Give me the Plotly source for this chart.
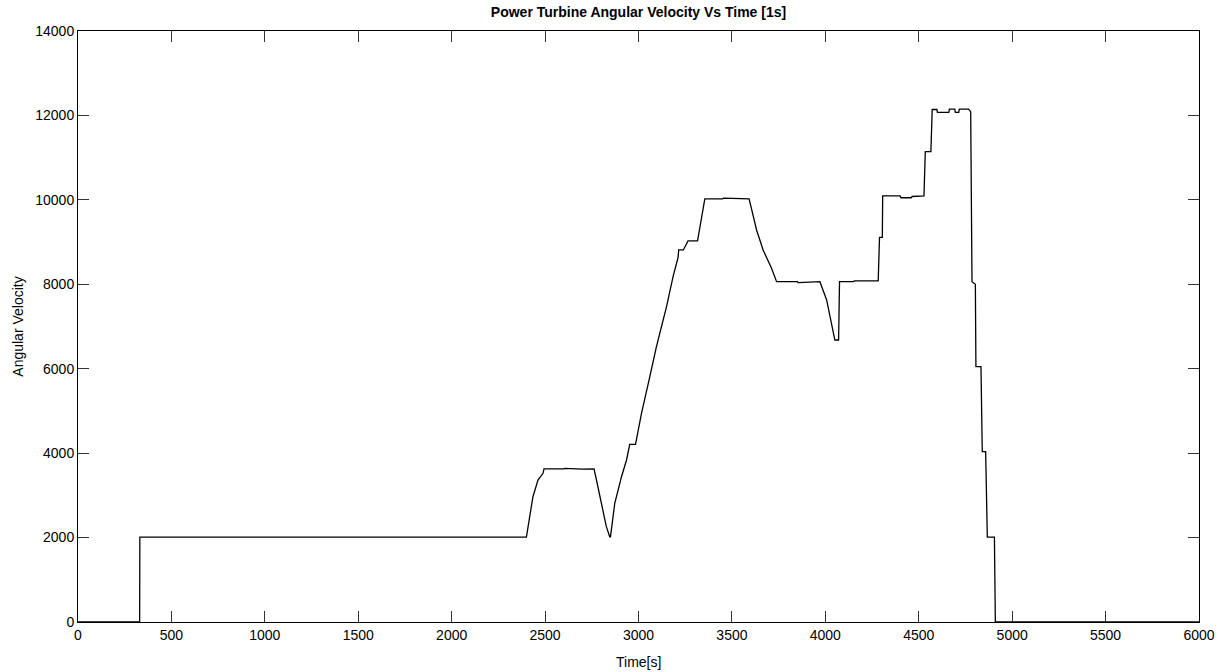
import plotly.graph_objects as go

# Breakpoints (time [s], angular velocity)
time_s = [0, 330, 331, 2400, 2435, 2462, 2489, 2494, 2600, 2605, 2700, 2762,
          2775, 2810, 2828, 2846, 2850, 2873, 2909, 2936, 2953, 2984,
          3016, 3060, 3096, 3150, 3185, 3212, 3215, 3240, 3265, 3316,
          3355, 3450, 3455, 3592, 3632, 3667, 3712, 3739,
          3850, 3855, 3960, 3971, 4007, 4034, 4051, 4071, 4076, 4150, 4155, 4283,
          4290, 4305, 4307, 4400, 4405, 4460, 4465, 4528,
          4535, 4565, 4572, 4597, 4600, 4661, 4664, 4693, 4696, 4714, 4717, 4767, 4774,
          4778, 4785, 4803, 4806, 4833, 4840, 4858, 4867, 4905, 4910, 6000]
velocity = [0, 0, 2010, 2010, 2968, 3364, 3522, 3625, 3625, 3640, 3620, 3625,
            3364, 2653, 2258, 2020, 2020, 2812, 3442, 3838, 4210, 4210,
            4944, 5800, 6522, 7470, 8180, 8640, 8813, 8813, 9026, 9026,
            10021, 10021, 10040, 10021, 9286, 8813, 8380, 8062,
            8062, 8040, 8062, 8062, 7628, 6996, 6680, 6680, 8062, 8062, 8080, 8080,
            9113, 9113, 10092, 10092, 10050, 10050, 10080, 10092,
            11141, 11141, 12140, 12140, 12070, 12070, 12150, 12150, 12070, 12070, 12150, 12150, 12090,
            12090, 8062, 8000, 6048, 6048, 4034, 4034, 2010, 2010, 0, 0]

x_ticks = [0, 500, 1000, 1500, 2000, 2500, 3000, 3500, 4000, 4500, 5000, 5500, 6000]
y_ticks = [0, 2000, 4000, 6000, 8000, 10000, 12000, 14000]

font_family = "Liberation Sans, Arial, Helvetica, sans-serif"

fig = go.Figure()
fig.add_trace(go.Scatter(
    x=time_s, y=velocity, mode="lines",
    line=dict(color="black", width=1.3),
    showlegend=False, hoverinfo="x+y",
))

axis_common = dict(
    showline=True, linecolor="black", linewidth=1, mirror="ticks",
    ticks="inside", ticklen=11, tickwidth=1, tickcolor="#333333",
    showgrid=False, zeroline=False, automargin=False,
    tickfont=dict(family=font_family, size=14, color="black"),
)

fig.update_layout(
    width=1226, height=672,
    margin=dict(l=78, r=27, t=31, b=50),
    paper_bgcolor="white", plot_bgcolor="white",
    title=dict(text="<b>Power Turbine Angular Velocity Vs Time [1s]</b>",
               x=(78 + 1199) / 2 / 1226, xanchor="center", y=1 - 12 / 672, yanchor="middle",
               font=dict(family=font_family, size=14, color="black")),
    xaxis=dict(range=[0, 6000], tickvals=x_ticks, ticktext=[str(v) for v in x_ticks],
               **axis_common),
    yaxis=dict(range=[0, 14000], tickvals=y_ticks, ticktext=[str(v) for v in y_ticks],
               title=dict(text="Angular Velocity", standoff=8,
                          font=dict(family=font_family, size=14, color="black")),
               **axis_common),
    annotations=[dict(text="Time[s]", xref="paper", yref="paper", x=0.5, y=-40 / 591,
                      xanchor="center", yanchor="middle", showarrow=False,
                      font=dict(family=font_family, size=14, color="black"))],
)

fig.write_html(
    "out.html",
    config={"displayModeBar": False},
    post_script="document.body.style.margin='0px';document.body.style.overflow='hidden';",
)
